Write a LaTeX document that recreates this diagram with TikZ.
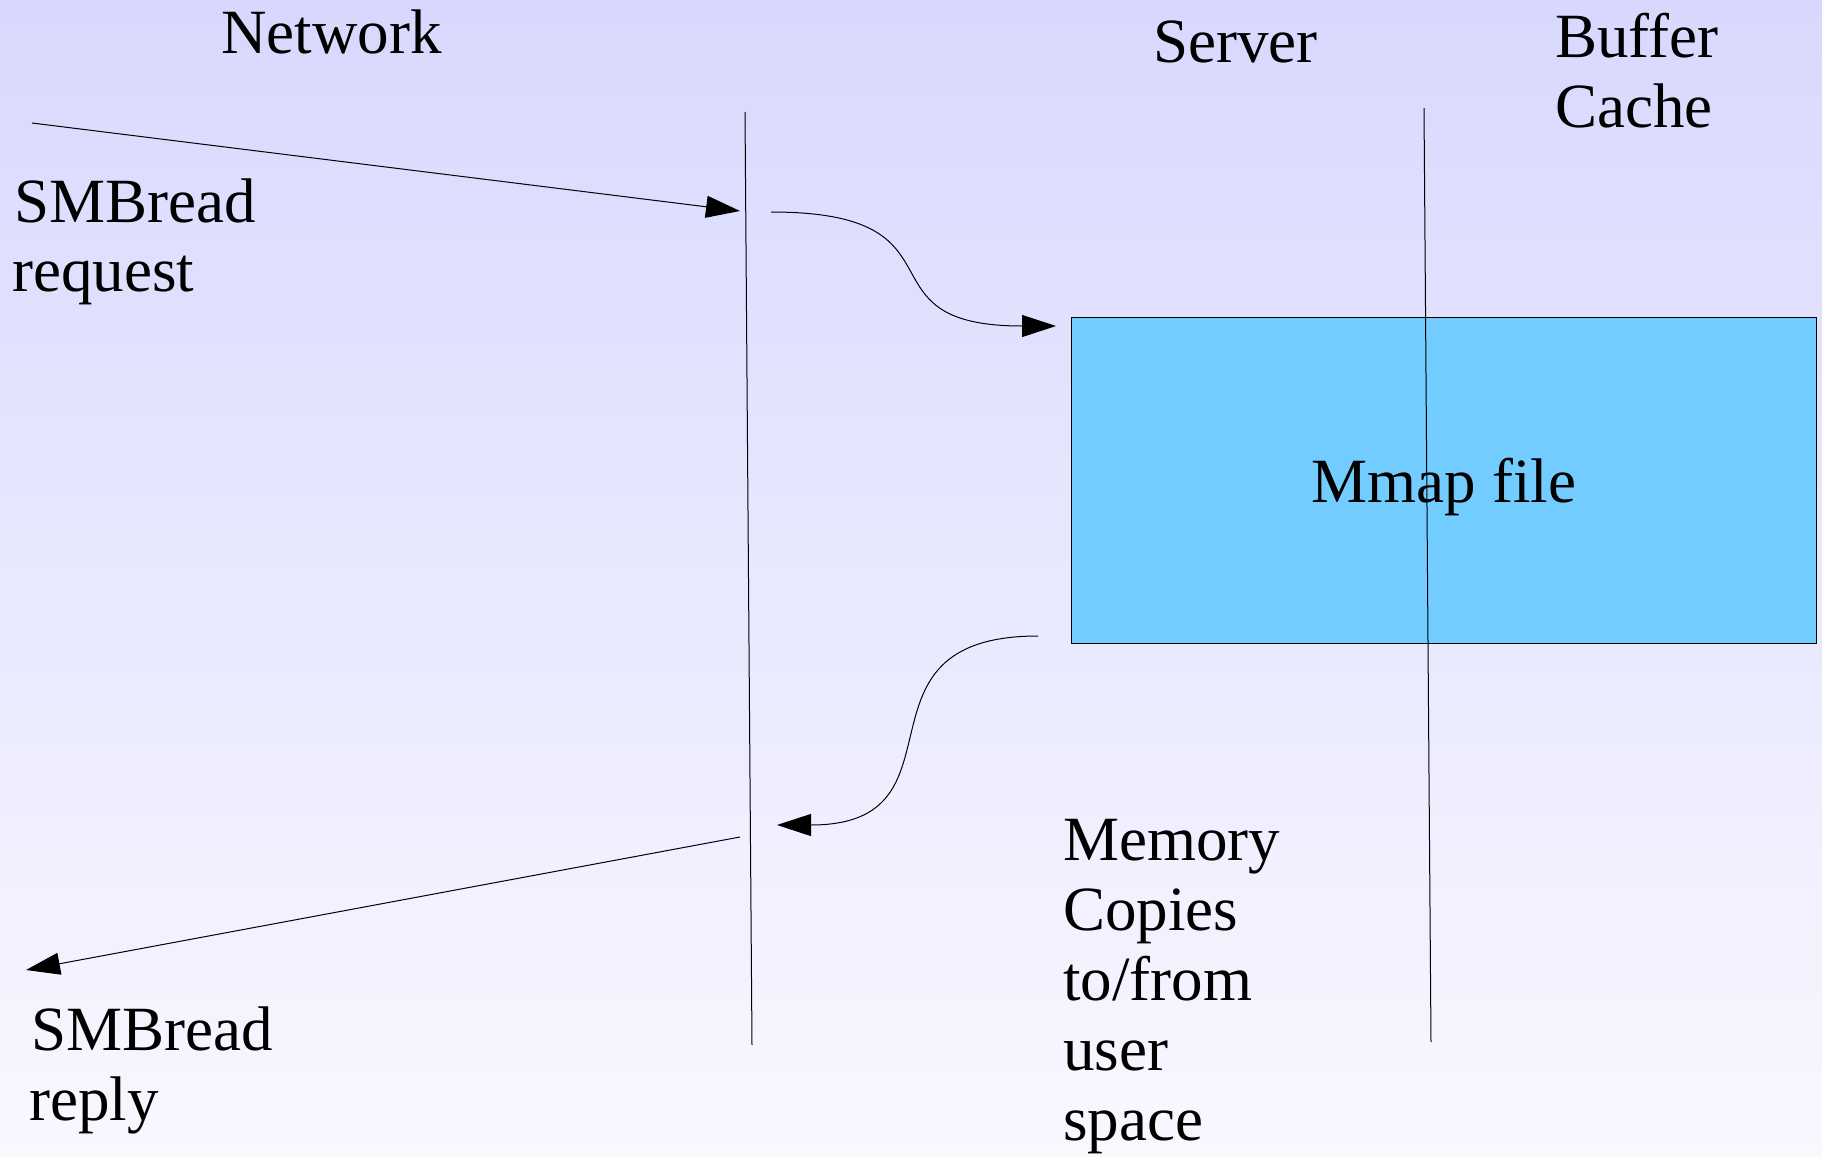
\documentclass[tikz,border=0pt]{standalone}
\usepackage{fontspec}
\setmainfont{Liberation Serif}
\usetikzlibrary{arrows.meta}

\definecolor{bgtop}{HTML}{D8D8FE}
\definecolor{bgbot}{HTML}{F8F8FF}
\definecolor{mmapblue}{HTML}{72CCFF}

\tikzset{
  lbl/.style={font=\fontsize{31.5}{35}\selectfont, inner sep=0pt, anchor=base west},
  divider/.style={line width=0.5pt, black},
  flow/.style={line width=0.5pt, black, -{Triangle[length=17pt,width=11pt]}},
  mmapbox/.style={draw=black, line width=0.5pt, fill=mmapblue,
    minimum width=372.5pt, minimum height=163pt, inner sep=0pt,
    font=\fontsize{31.5}{35}\selectfont}
}

\begin{document}
\begin{tikzpicture}[x=0.5pt,y=-0.5pt]
  % page and background gradient
  \useasboundingbox (0,0) rectangle (1822,1157);
  \shade[top color=bgtop, bottom color=bgbot] (0,0) rectangle (1822,1157);

  % column headings
  \node[lbl] (hnet) at (221,53) {Network};
  \node[lbl] (hsrv) at (1153,62) {Server};
  \node[lbl] (hbuf1) at (1555,57) {Buffer};
  \node[lbl] (hbuf2) at (1555,127) {Cache};

  % the mapped file spanning server and buffer cache
  \node[mmapbox] (mmap) at (1443.5,480) {};

  % boundaries between network / server / buffer cache
  \coordinate (d1top) at (745,112);
  \coordinate (d1bot) at (752,1045);
  \coordinate (d2top) at (1424,108);
  \coordinate (d2bot) at (1431,1042);
  \draw[divider] (d1top) -- (d1bot);
  \draw[divider] (d2top) -- (d2bot);

  \node[font=\fontsize{31.5}{35}\selectfont, inner sep=0pt, anchor=base]
    (mmaptxt) at (1444,502) {Mmap file};

  % side labels
  \node[lbl] (req1) at (14,222) {SMBread};
  \node[lbl] (req2) at (12,291) {request};
  \node[lbl] (rep1) at (31,1050) {SMBread};
  \node[lbl] (rep2) at (29,1120) {reply};
  \node[lbl] (mc1) at (1063,860) {Memory};
  \node[lbl] (mc2) at (1063,930) {Copies};
  \node[lbl] (mc3) at (1063,1000) {to/from};
  \node[lbl] (mc4) at (1063,1070) {user};
  \node[lbl] (mc5) at (1063,1140) {space};

  % connector end points
  \coordinate (reqin) at (32,123);
  \coordinate (reqat) at (740,211);
  \coordinate (srvout) at (771,212);
  \coordinate (mapin) at (1056,326);
  \coordinate (mapout) at (1038,636);
  \coordinate (srvin) at (777,825);
  \coordinate (repat) at (740,837);
  \coordinate (repout) at (26,970);

  % request path
  \draw[flow] (reqin) -- (reqat);
  \draw[flow] (srvout) .. controls (975,212) and (852,326) .. (mapin);
  % reply path
  \draw[flow] (mapout) .. controls (840,636) and (975,825) .. (srvin);
  \draw[flow] (repat) -- (repout);
\end{tikzpicture}
\end{document}
